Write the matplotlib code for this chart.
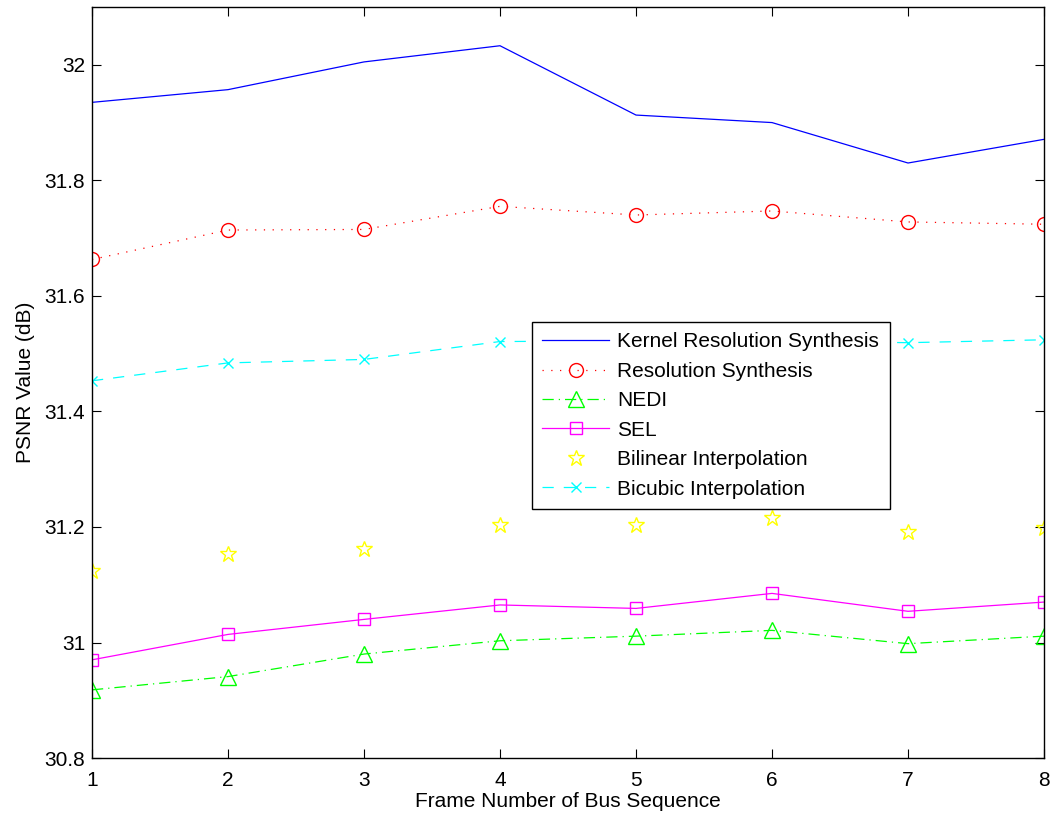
import numpy as np
import matplotlib
matplotlib.use('Agg')
import matplotlib.pyplot as plt

plt.rcParams['font.family'] = ['Liberation Sans', 'DejaVu Sans']
plt.rcParams['font.size'] = 15

# data
frames = [1, 2, 3, 4, 5, 6, 7, 8]
kernel_rs = [31.935, 31.957, 32.005, 32.033, 31.913, 31.900, 31.830, 31.871]
res_synth = [31.663, 31.714, 31.715, 31.755, 31.740, 31.747, 31.728, 31.724]
nedi = [30.918, 30.941, 30.980, 31.003, 31.011, 31.021, 30.998, 31.011]
sel = [30.970, 31.014, 31.040, 31.065, 31.059, 31.085, 31.054, 31.070]
bilinear = [31.123, 31.154, 31.162, 31.203, 31.204, 31.215, 31.191, 31.198]
bicubic = [31.453, 31.484, 31.490, 31.521, 31.522, 31.522, 31.519, 31.524]

fig, ax = plt.subplots(figsize=(10.55, 8.18), dpi=100)
fig.subplots_adjust(left=0.0872, right=0.9896, top=0.9914, bottom=0.0733)

lw = 0.9
ax.plot(frames, kernel_rs, '-', color='#0000ff', lw=lw, label='Kernel Resolution Synthesis')
ax.plot(frames, res_synth, color='#ff0000', lw=lw, dashes=(1, 6), marker='o', ms=10,
        mfc='none', mew=1.0, label='Resolution Synthesis')
ax.plot(frames, nedi, color='#00ff00', lw=lw, dashes=(9, 4, 1, 4), marker='^', ms=12,
        mfc='none', mew=1.0, label='NEDI')
ax.plot(frames, sel, '-', color='#ff00ff', lw=lw, marker='s', ms=8,
        mfc='none', mew=1.0, label='SEL')
ax.plot(frames, bilinear, linestyle='none', color='#ffff00', marker='*', ms=12,
        mfc='none', mew=1.0, label='Bilinear Interpolation')
ax.plot(frames, bicubic, color='#00ffff', lw=lw, marker='x', ms=7,
        mew=1.0, dashes=(9, 8), label='Bicubic Interpolation')

ax.set_xlim(1, 8)
ax.set_ylim(30.8, 32.1)
ax.set_xticks(frames)
ax.set_yticks([30.8, 31, 31.2, 31.4, 31.6, 31.8, 32])
ax.set_yticklabels(['30.8', '31', '31.2', '31.4', '31.6', '31.8', '32'])
ax.tick_params(direction='in', length=6.5, width=0.8, top=True, right=True, labelsize=15)
ax.tick_params(axis='x', pad=9)
ax.tick_params(axis='y', pad=5)
for s in ax.spines.values():
    s.set_linewidth(1.0)

ax.set_xlabel('Frame Number of Bus Sequence', fontsize=15, labelpad=2)
ax.set_ylabel('PSNR Value (dB)', fontsize=15, labelpad=7)

leg = ax.legend(loc='upper left', bbox_to_anchor=(0.462, 0.5806), fontsize=15,
                handlelength=3.2, labelspacing=0.5, borderpad=0.5, borderaxespad=0,
                handletextpad=0.4, fancybox=False, framealpha=1, edgecolor='black')
leg.get_frame().set_linewidth(1.0)

fig.savefig('out.png', dpi=100)
